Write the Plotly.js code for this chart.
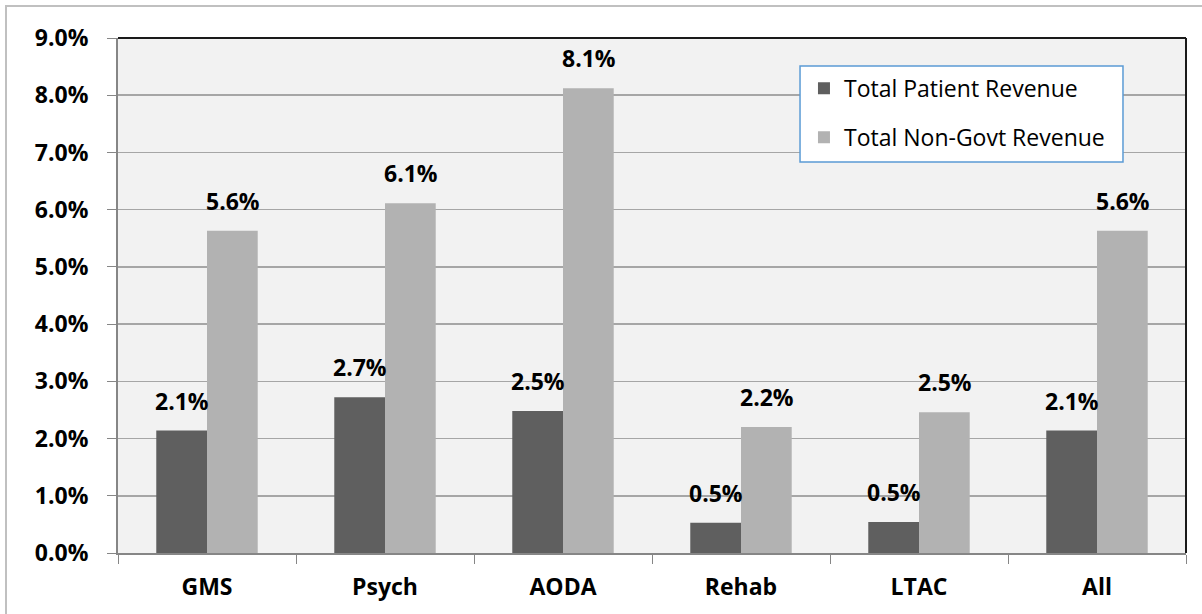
<!DOCTYPE html>
<html>
<head>
<meta charset="utf-8">
<script src="https://cdn.plot.ly/plotly-3.0.1.min.js"></script>
<style>
html,body{margin:0;padding:0;background:#fff;}
#frame{position:absolute;left:5px;top:5px;width:1300px;height:700px;border-left:2px solid #c0c0c0;border-top:2px solid #c0c0c0;pointer-events:none;}
#chart{position:absolute;left:0;top:0;width:1202px;height:614px;}
</style>
</head>
<body>
<div id="chart"></div>
<div id="frame"></div>
<script>
const categories = ["GMS", "Psych", "AODA", "Rehab", "LTAC", "All"];
const patientRevenue = [2.14, 2.72, 2.48, 0.53, 0.54, 2.14];
const nonGovtRevenue = [5.63, 6.11, 8.12, 2.2, 2.46, 5.63];
const patientLabels = ["2.1%", "2.7%", "2.5%", "0.5%", "0.5%", "2.1%"];
const nonGovtLabels = ["5.6%", "6.1%", "8.1%", "2.2%", "2.5%", "5.6%"];
const seriesNames = ["Total Patient Revenue", "Total Non-Govt Revenue"];

const FONT = "'Open Sans', 'Noto Sans', sans-serif";

const traces = [
  {type: "bar", x: categories, y: patientRevenue, name: seriesNames[0],
   marker: {color: "#5f5f5f"}, legendgroup: "a", hoverinfo: "none"},
  {type: "bar", x: categories, y: nonGovtRevenue, name: seriesNames[1],
   marker: {color: "#b2b2b2"}, legendgroup: "b", hoverinfo: "none"}
];

const annotations = [];
categories.forEach((c, i) => {
  annotations.push({x: c, y: patientRevenue[i], text: patientLabels[i], xref: "x", yref: "y",
    xshift: -25.5, yshift: 12, yanchor: "bottom", showarrow: false,
    font: {family: FONT, size: 23, color: "#000", weight: "bold"}});
  annotations.push({x: c, y: nonGovtRevenue[i], text: nonGovtLabels[i], xref: "x", yref: "y",
    xshift: 25.5, yshift: 12, yanchor: "bottom", showarrow: false,
    font: {family: FONT, size: 23, color: "#000", weight: "bold"}});
});

const layout = {
  width: 1202, height: 614,
  margin: {l: 118, r: 16, t: 38, b: 61, pad: 0},
  paper_bgcolor: "rgba(0,0,0,0)",
  plot_bgcolor: "#f2f2f2",
  barmode: "group",
  bargap: 0.43,
  bargroupgap: 0,
  showlegend: true,
  legend: {
    x: 0.6423, y: 0.944, xanchor: "left", yanchor: "top",
    bgcolor: "rgba(0,0,0,0)", borderwidth: 0,
    font: {family: FONT, size: 23, color: "#000"},
    traceorder: "grouped", tracegroupgap: 16,
    itemwidth: 30
  },
  xaxis: {
    type: "category",
    showgrid: false,
    showline: true, linecolor: "#868686", linewidth: 2,
    ticks: "outside", tickson: "boundaries", ticklen: 9, tickcolor: "#868686", tickwidth: 1,
    ticklabelstandoff: 12,
    tickfont: {family: FONT, size: 23, color: "#000", weight: "bold"},
    zeroline: false
  },
  yaxis: {
    range: [0, 9], dtick: 1, tickformat: ".1f", ticksuffix: "%",
    showgrid: true, gridcolor: "#a6a6a6", gridwidth: 1.5,
    showline: true, linecolor: "#868686", linewidth: 2,
    ticks: "outside", ticklen: 9, tickcolor: "#868686", tickwidth: 1,
    ticklabelstandoff: 14,
    tickfont: {family: FONT, size: 23, color: "#000", weight: "bold"},
    zeroline: false
  },
  shapes: [
    {type: "line", xref: "paper", yref: "paper", x0: 0, x1: 1, y0: 1, y1: 1, line: {color: "#1a1a1a", width: 2}},
    {type: "line", xref: "paper", yref: "paper", x0: 1, x1: 1, y0: 0, y1: 1, line: {color: "#1a1a1a", width: 2}},
    {type: "rect", xref: "paper", yref: "paper", x0: 0.6386, x1: 0.941, y0: 0.759, y1: 0.9456,
     fillcolor: "#ffffff", line: {color: "#5b9bd5", width: 1.5}}
  ],
  annotations: annotations
};

Plotly.newPlot("chart", traces, layout, {displayModeBar: false, staticPlot: true});
</script>
</body>
</html>
